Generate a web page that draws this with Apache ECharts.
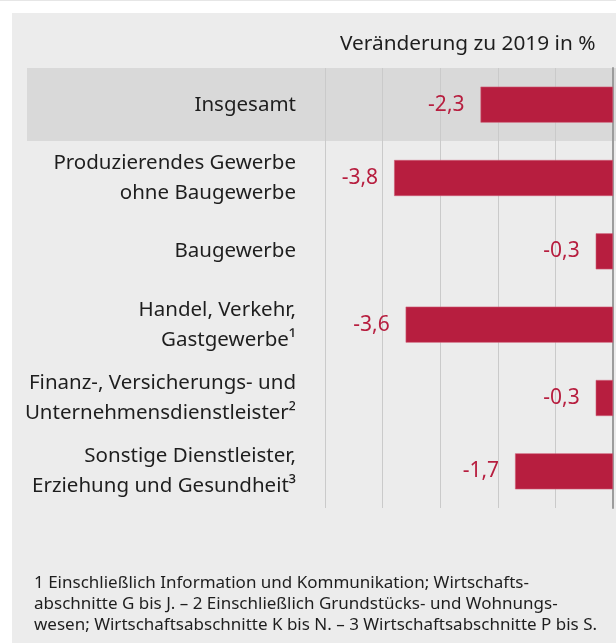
<!DOCTYPE html>
<html lang="de">
<head>
    <meta charset="UTF-8">
    <title>Veränderung zu 2019</title>
</head>
<body style="margin:0;background:#fff">

<div id="main" style="width:616px;height:643px"></div>

<script type="text/javascript" src="https://cdn.jsdelivr.net/npm/echarts@6/dist/echarts.min.js"></script>
<script type="text/javascript">
    // Wirtschaftsbereiche, oben nach unten
    var categories = [
        'Insgesamt',
        'Produzierendes Gewerbe\nohne Baugewerbe',
        'Baugewerbe',
        'Handel, Verkehr,\nGastgewerbe¹',
        'Finanz-, Versicherungs- und\nUnternehmensdienstleister²',
        'Sonstige Dienstleister,\nErziehung und Gesundheit³'
    ];
    var values = [-2.3, -3.8, -0.3, -3.6, -0.3, -1.7];
    var axisMin = -5, axisMax = 0, axisStep = 1;

    var unitTitle = 'Veränderung zu 2019 in %';
    var footnote = '1 Einschließlich Information und Kommunikation; Wirtschafts-\n' +
        'abschnitte G bis J. – 2 Einschließlich Grundstücks- und Wohnungs-\n' +
        'wesen; Wirtschaftsabschnitte K bis N. – 3 Wirtschaftsabschnitte P bis S.';

    var font = 'Noto Sans';
    var red = '#b71e3f';

    var myChart = echarts.init(document.getElementById('main'));

    var option = {
        backgroundColor: '#ffffff',
        textStyle: { fontFamily: font },
        graphic: [
            { type: 'rect', z: -10, shape: { x: 0, y: 0, width: 616, height: 1 }, style: { fill: '#e6e6e6' } },
            { type: 'rect', z: -10, shape: { x: 12, y: 13, width: 604, height: 630 }, style: { fill: '#ececec' } },
            // hinterlegte Zeile "Insgesamt"
            { type: 'rect', z: -9, shape: { x: 27, y: 68, width: 589, height: 73 }, style: { fill: '#d9d9d9' } }
        ],
        title: [
            {
                text: unitTitle,
                left: 335,
                top: 29,
                textStyle: { fontFamily: font, fontSize: 20.8, fontWeight: 'normal', color: '#1e1e1e' }
            },
            {
                text: footnote,
                left: 29,
                top: 568,
                textStyle: { fontFamily: font, fontSize: 17, fontWeight: 'normal', color: '#1e1e1e', lineHeight: 21 }
            }
        ],
        grid: {
            left: 325,
            right: 3,
            top: 68,
            bottom: 135
        },
        xAxis: {
            type: 'value',
            min: axisMin,
            max: axisMax,
            interval: axisStep,
            axisLabel: { show: false },
            axisLine: { show: false },
            axisTick: { show: false },
            splitLine: { lineStyle: { color: '#cacaca', width: 1 } }
        },
        yAxis: [
            {
                type: 'category',
                inverse: true,
                data: categories,
                axisLine: { show: false },
                axisTick: { show: false },
                axisLabel: {
                    margin: 29,
                    fontFamily: font,
                    fontSize: 20.5,
                    lineHeight: 30,
                    color: '#1e1e1e',
                    align: 'right'
                }
            },
            {
                // Nulllinie rechts
                type: 'category',
                position: 'right',
                inverse: true,
                data: categories,
                axisLabel: { show: false },
                axisTick: { show: false },
                axisLine: { onZero: false, lineStyle: { color: '#9c9c9c', width: 2 } }
            }
        ],
        series: [{
            type: 'bar',
            data: values,
            barWidth: 36,
            itemStyle: {
                color: red,
                borderColor: '#cf5a73',
                borderWidth: 0.6
            },
            label: {
                show: true,
                position: 'left',
                distance: 16,
                fontFamily: font,
                fontSize: 21,
                color: red,
                formatter: function (p) {
                    return p.value.toFixed(1).replace('.', ',');
                }
            }
        }]
    };

    myChart.setOption(option);
</script>
</body>
</html>
